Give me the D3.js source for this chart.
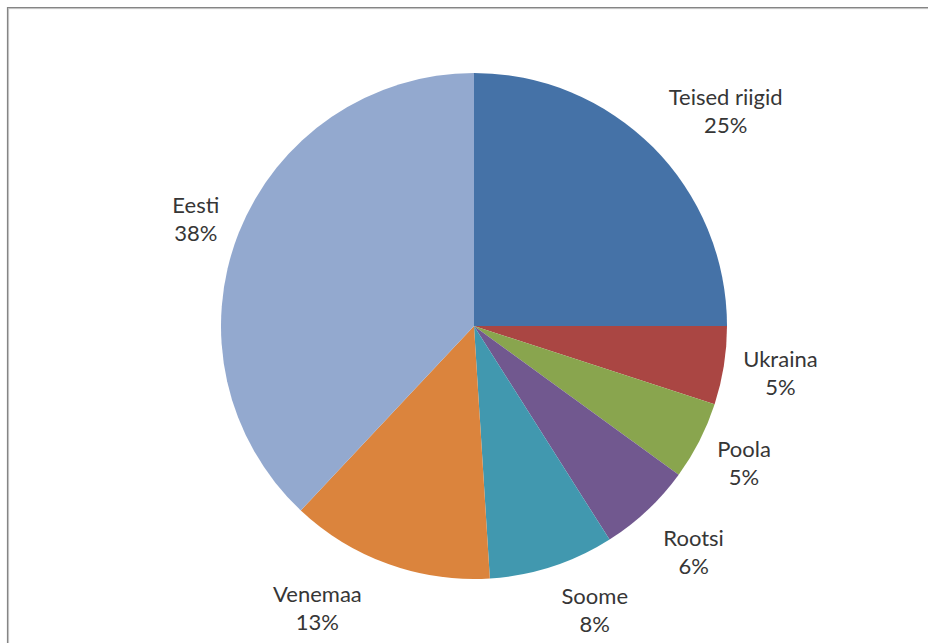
<!DOCTYPE html>
<html>
<head>
<meta charset="utf-8">
<script src="https://cdn.jsdelivr.net/npm/d3@7"></script>
<style>
  html, body { margin: 0; padding: 0; background: #fff; }
  svg { display: block; }
</style>
</head>
<body>
<svg id="chart" width="928" height="643"></svg>
<script>
// Slice data, clockwise from 12 o'clock
const countries = ["Teised riigid", "Ukraina", "Poola", "Rootsi", "Soome", "Venemaa", "Eesti"];
const shares = [25, 5, 5, 6, 8, 13, 38];
const colors = ["#4572A7", "#AA4643", "#89A54E", "#71588F", "#4198AF", "#DB843D", "#93A9CF"];

// Label centres relative to the pie centre (polar: degrees clockwise from top, distance)
const labelPlacement = [
  [49.5, 331], [98.7, 310], [117.0, 303], [135.8, 315],
  [157.0, 309], [209.0, 323], [291.0, 298]
];

const svg = d3.select("#chart");
const W = 928, H = 643;
const cx = 474, cy = 326, radius = 253;

// Frame (top and left edges visible)
svg.append("line").attr("x1", 7).attr("x2", W).attr("y1", 7.5).attr("y2", 7.5)
  .attr("stroke", "#858585").attr("stroke-width", 1.2);
svg.append("line").attr("x1", 7).attr("x2", W).attr("y1", 8.6).attr("y2", 8.6)
  .attr("stroke", "#bdbdbd").attr("stroke-width", 1);
svg.append("line").attr("x1", 7.5).attr("x2", 7.5).attr("y1", 7).attr("y2", H)
  .attr("stroke", "#858585").attr("stroke-width", 1.2);
svg.append("line").attr("x1", 8.6).attr("x2", 8.6).attr("y1", 8).attr("y2", H)
  .attr("stroke", "#bdbdbd").attr("stroke-width", 1);

const data = countries.map((c, i) => ({ name: c, value: shares[i], color: colors[i] }));

const pie = d3.pie().value(d => d.value).sort(null);
const arc = d3.arc().innerRadius(0).outerRadius(radius);

const g = svg.append("g").attr("transform", `translate(${cx},${cy})`);

g.selectAll("path.slice")
  .data(pie(data))
  .join("path")
  .attr("class", "slice")
  .attr("d", arc)
  .attr("fill", d => d.data.color);

const fmt = d3.format(".0%");
const total = d3.sum(shares);

const labels = g.selectAll("text.lbl")
  .data(pie(data))
  .join("text")
  .attr("class", "lbl")
  .attr("text-anchor", "middle")
  .attr("font-family", "Lato, 'Open Sans', sans-serif")
  .attr("font-size", 22)
  .attr("fill", "#363636")
  .attr("transform", (d, i) => {
    const [deg, dist] = labelPlacement[i];
    const a = deg * Math.PI / 180;
    return `translate(${dist * Math.sin(a)},${-dist * Math.cos(a)})`;
  });

labels.append("tspan").attr("x", 0).attr("y", -14).attr("dy", "0.35em")
  .text(d => d.data.name);
labels.append("tspan").attr("x", 0).attr("y", 14).attr("dy", "0.35em")
  .text(d => fmt(d.data.value / total));
</script>
</body>
</html>
